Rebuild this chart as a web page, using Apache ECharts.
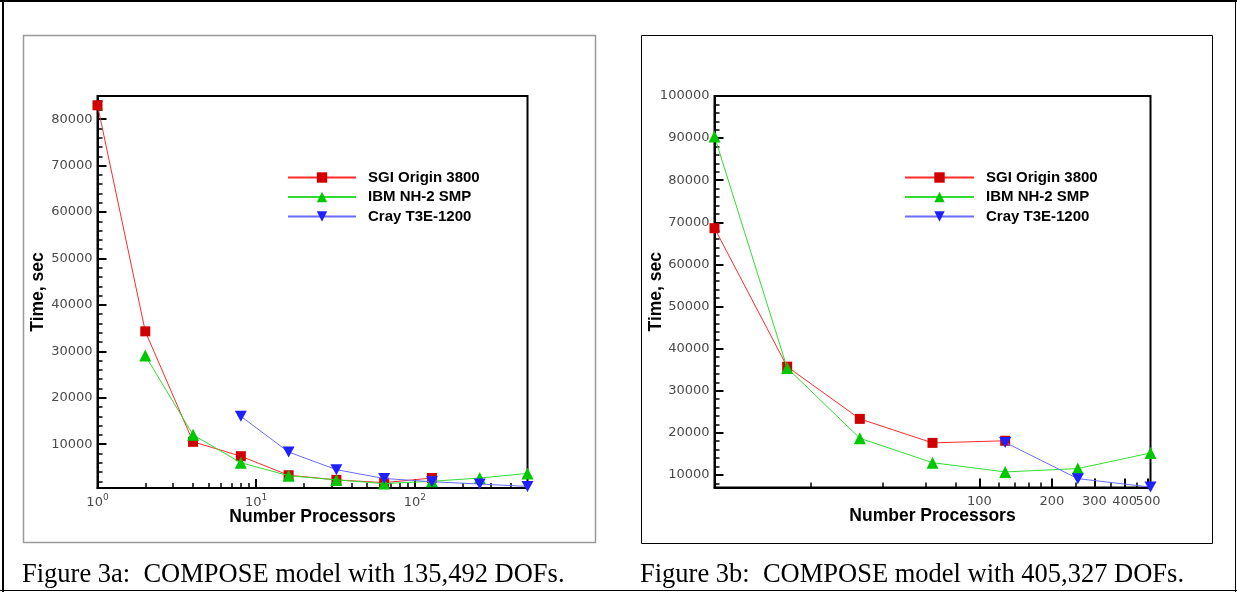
<!DOCTYPE html>
<html><head><meta charset="utf-8">
<script src="https://cdn.jsdelivr.net/npm/echarts@6/dist/echarts.min.js"></script>
<style>html,body{margin:0;padding:0;background:#fff;}#c{width:1237px;height:592px;}</style>
</head><body><div id="c"></div>
<script>
// ---------- data ----------
const seriesNames = ['SGI Origin 3800', 'IBM NH-2 SMP', 'Cray T3E-1200'];

// Figure 3a : 135,492 DOFs
const procA = [1, 2, 4, 8, 16, 32, 64, 128, 256, 512];
const sgiA  = [83000, 34300, 10500, 7400, 3300, 2300, 1700, 2700, null, null];
const ibmA  = [null, 29100, 12000, 6000, 3200, 2300, 1500, 2000, 2700, 3700];
const crayA = [null, null, null, 16000, 8300, 4500, 2600, 1900, 1400, 900];

// Figure 3b : 405,327 DOFs
const procB = [8, 16, 32, 64, 128, 256, 512];
const sgiB  = [68600, 35700, 23300, 17600, 18100, null, null];
const ibmB  = [90400, 35400, 18700, 12900, 10700, 11500, 15200];
const crayB = [null, null, null, null, 17700, 9100, 7100];

// tick labels / tick values
const xLabelsA = [1, 10, 100];
const xMajorTicksA = [10, 100];
const xMinorTicksA = [2,3,4,5,6,7,8,9,20,30,40,50,60,70,80,90,200,300,400,500];
const yLabelsA = [10000, 20000, 30000, 40000, 50000, 60000, 70000, 80000];
const xLabelsB = [100, 200, 300, 500];
const xLabelsB2 = [400];
const xMajorTicksB = [100, 200, 300, 400, 500];
const xMinorTicksB = [20, 40, 60, 80, 120, 140, 160, 180, 250, 350, 450];
const yLabelsB = [10000, 20000, 30000, 40000, 50000, 60000, 70000, 80000, 90000, 100000];

const captionA = 'Figure 3a:  COMPOSE model with 135,492 DOFs.';
const captionB = 'Figure 3b:  COMPOSE model with 405,327 DOFs.';

// ---------- helpers ----------
function pairs(xs, ys) { const out = []; xs.forEach((x, i) => { if (ys[i] != null) out.push([x, ys[i]]); }); return out; }
function minorY(step, from, to, major) { const o = []; for (let v = from; v <= to; v += step) { if (v % major !== 0) o.push(v); } return o; }
const yMinorA = minorY(2000, 2000, 84000, 10000);
const yMinorB = minorY(2000, 8000, 98000, 10000);

const tickFont = { fontFamily: 'DejaVu Sans', fontSize: 13, color: '#4a4a4a' };
const nameFont = { fontFamily: 'Liberation Sans', fontWeight: 'bold', fontSize: 17.5, color: '#000' };
const richLabel = { b: { fontFamily: 'DejaVu Sans', fontSize: 13, color: '#4a4a4a', lineHeight: 16, verticalAlign: 'bottom' },
                    s: { fontFamily: 'DejaVu Sans', fontSize: 9, color: '#4a4a4a', lineHeight: 9, verticalAlign: 'top' } };
const styles = [
  { symbol: 'rect', size: 10, sym: '#d00000', line: '#ff2a2a' },
  { symbol: 'triangle', size: 12, sym: '#00c800', line: '#30dd30' },
  { symbol: 'path://M0,0L10,0L5,9Z', size: [12, 11], sym: '#2020ff', line: '#6b6bff' }
];

function mkSeries(name, idx, xs, ys, ai) {
  const s = styles[idx];
  return {
    name: name, type: 'line', xAxisIndex: ai * 2, yAxisIndex: ai * 2,
    data: pairs(xs, ys), symbol: s.symbol, symbolSize: s.size, showSymbol: true,
    itemStyle: { color: s.sym }, lineStyle: { color: s.line, width: 1 },
    emphasis: { disabled: true }, z: 3 + idx
  };
}

function logX(gi, min, max, majors, minors, labels, fmt) {
  return [{
    type: 'log', logBase: 10, gridIndex: gi, min: min, max: max, position: 'bottom',
    axisLine: { onZero: false, lineStyle: { color: '#000', width: 2 } },
    axisTick: { inside: true, length: 9, customValues: majors, lineStyle: { color: '#000', width: 2 } },
    axisLabel: Object.assign({ customValues: labels, margin: 5, hideOverlap: false, showMinLabel: true, showMaxLabel: true, formatter: fmt, rich: richLabel }, tickFont),
    splitLine: { show: false }, minorTick: { show: false },
    name: 'Number Processors', nameLocation: 'middle', nameGap: 20, nameTextStyle: nameFont, nameMoveOverlap: false
  }, {
    type: 'log', logBase: 10, gridIndex: gi, min: min, max: max, position: 'bottom', offset: 0,
    axisLine: { show: false, onZero: false },
    axisTick: { inside: true, length: 5, customValues: minors, lineStyle: { color: '#000', width: 1.5 } },
    axisLabel: { show: false }, splitLine: { show: false }
  }];
}
function valY(gi, min, max, labels, minors, gap) {
  return [{
    type: 'value', gridIndex: gi, min: min, max: max, position: 'left',
    axisLine: { show: true, onZero: false, lineStyle: { color: '#000', width: 2 } },
    axisTick: { show: true, inside: true, length: 9, customValues: labels, lineStyle: { color: '#000', width: 2 } },
    axisLabel: Object.assign({ customValues: labels, margin: 5, hideOverlap: false, showMinLabel: true, showMaxLabel: true, formatter: v => String(Math.round(v)) }, tickFont),
    splitLine: { show: false },
    name: 'Time, sec', nameLocation: 'middle', nameGap: gap, nameRotate: 90, nameTextStyle: nameFont, nameMoveOverlap: false
  }, {
    type: 'value', gridIndex: gi, min: min, max: max, position: 'left', offset: 0,
    axisLine: { show: false, onZero: false },
    axisTick: { show: true, inside: true, length: 5, customValues: minors, lineStyle: { color: '#000', width: 1.5 } },
    axisLabel: { show: false }, splitLine: { show: false }
  }];
}

const legendText = { fontFamily: 'Liberation Sans', fontWeight: 'bold', fontSize: 15, color: '#000', lineHeight: 14, padding: [0, 0, 0, 7] };

const option = {
  animation: false,
  backgroundColor: '#fff',
  grid: [
    { left: 97.5, top: 96, width: 430, height: 392, show: true, borderColor: '#000', borderWidth: 2, outerBoundsMode: 'none', containLabel: false },
    { left: 714.5, top: 96, width: 436, height: 391.5, show: true, borderColor: '#000', borderWidth: 2, outerBoundsMode: 'none', containLabel: false }
  ],
  xAxis: [].concat(
    logX(0, 1, 512, xMajorTicksA, xMinorTicksA, xLabelsA, v => '{b|10}{s|' + Math.round(Math.log10(v)) + '}'),
    logX(1, 8, 512, xMajorTicksB, xMinorTicksB, xLabelsB, v => '{b|' + Math.round(v) + '}'),
    [{
      type: 'log', logBase: 10, gridIndex: 1, min: 8, max: 512, position: 'bottom', offset: 0,
      axisLine: { show: false, onZero: false }, axisTick: { show: false },
      axisLabel: Object.assign({ customValues: xLabelsB2, margin: 5, hideOverlap: false, showMinLabel: true, showMaxLabel: true,
        formatter: v => '{b|' + Math.round(v) + '}', rich: richLabel }, tickFont),
      splitLine: { show: false }
    }]
  ),
  yAxis: [].concat(
    valY(0, 550, 85000, yLabelsA, yMinorA, 50),
    valY(1, 7000, 100000, yLabelsB, yMinorB, 49)
  ),
  legend: [
    { orient: 'vertical', left: 287, top: 170, padding: 0, itemWidth: 68, itemHeight: 13, itemGap: 4.5, selectedMode: false, data: seriesNames, textStyle: legendText },
    { orient: 'vertical', left: 904, top: 170, padding: 0, itemWidth: 69, itemHeight: 13, itemGap: 4.5, selectedMode: false, data: seriesNames, textStyle: legendText }
  ],
  series: [
    mkSeries(seriesNames[0], 0, procA, sgiA, 0),
    mkSeries(seriesNames[1], 1, procA, ibmA, 0),
    mkSeries(seriesNames[2], 2, procA, crayA, 0),
    mkSeries(seriesNames[0], 0, procB, sgiB, 1),
    mkSeries(seriesNames[1], 1, procB, ibmB, 1),
    mkSeries(seriesNames[2], 2, procB, crayB, 1)
  ],
  graphic: [
    { type: 'rect', silent: true, shape: { x: 0, y: 0, width: 1237, height: 2 }, style: { fill: '#000' } },
    { type: 'rect', silent: true, shape: { x: 2, y: 0, width: 2, height: 592 }, style: { fill: '#000' } },
    { type: 'rect', silent: true, shape: { x: 1235, y: 0, width: 1, height: 592 }, style: { fill: '#000' } },
    { type: 'rect', silent: true, shape: { x: 0, y: 590, width: 1237, height: 1 }, style: { fill: '#000' } },
    { type: 'rect', silent: true, shape: { x: 23.5, y: 35.5, width: 572, height: 507 }, style: { fill: 'none', stroke: '#9a9a9a', lineWidth: 1.5 } },
    { type: 'rect', silent: true, shape: { x: 641.5, y: 35.5, width: 571, height: 508 }, style: { fill: 'none', stroke: '#000', lineWidth: 1 } },
    { type: 'text', silent: true, style: { x: 22, y: 575.5, text: captionA, font: '26.5px "Liberation Serif"', fill: '#000', textAlign: 'left', textVerticalAlign: 'middle', align: 'left', verticalAlign: 'middle' } },
    { type: 'text', silent: true, style: { x: 640, y: 575.5, text: captionB, font: '26.5px "Liberation Serif"', fill: '#000', textAlign: 'left', textVerticalAlign: 'middle', align: 'left', verticalAlign: 'middle' } }
  ]
};
const chart = echarts.init(document.getElementById('c'), null, { renderer: 'canvas' });
chart.setOption(option);
</script></body></html>
